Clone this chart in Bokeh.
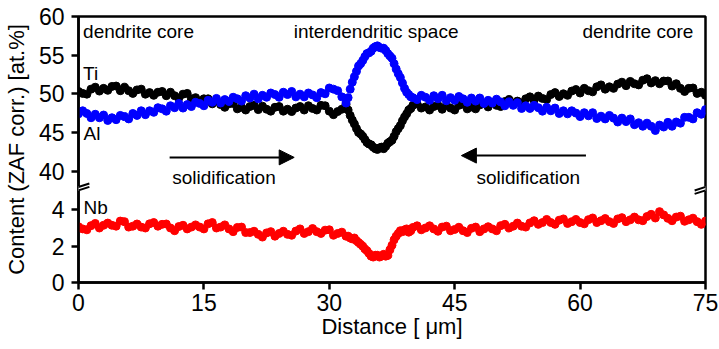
from bokeh.plotting import figure
from bokeh.models import (Range1d, FixedTicker, CustomJSTickFormatter, Label,
                          Arrow, NormalHead)
from bokeh.embed import file_html
from bokeh.resources import INLINE

# ---------------- data ----------------
distance = [
    0.0, 0.5, 1.0, 1.5, 2.0, 2.5, 3.0, 3.5, 4.0, 4.5, 5.0, 5.5, 6.0, 6.5, 7.0, 7.5, 8.0, 8.5, 9.0, 9.5,
    10.0, 10.5, 11.0, 11.5, 12.0, 12.5, 13.0, 13.5, 14.0, 14.5, 15.0, 15.5, 16.0, 16.5, 17.0, 17.5, 18.0, 18.5, 19.0, 19.5,
    20.0, 20.5, 21.0, 21.5, 22.0, 22.5, 23.0, 23.5, 24.0, 24.5, 25.0, 25.5, 26.0, 26.5, 27.0, 27.5, 28.0, 28.5, 29.0, 29.5,
    30.0, 30.5, 31.0, 31.5, 32.0, 32.25, 32.5, 32.75, 33.0, 33.25, 33.5, 33.75, 34.0, 34.25, 34.5, 34.75, 35.0, 35.25,
    35.5, 35.75, 36.0, 36.25, 36.5, 36.75, 37.0, 37.25, 37.5, 37.75, 38.0, 38.25, 38.5, 38.75, 39.0, 39.25, 39.5, 39.75,
    40.0, 40.5, 41.0, 41.5, 42.0, 42.5, 43.0, 43.5, 44.0, 44.5, 45.0, 45.5, 46.0, 46.5, 47.0, 47.5, 48.0, 48.5, 49.0, 49.5,
    50.0, 50.5, 51.0, 51.5, 52.0, 52.5, 53.0, 53.5, 54.0, 54.5, 55.0, 55.5, 56.0, 56.5, 57.0, 57.5, 58.0, 58.5, 59.0, 59.5,
    60.0, 60.5, 61.0, 61.5, 62.0, 62.5, 63.0, 63.5, 64.0, 64.5, 65.0, 65.5, 66.0, 66.5, 67.0, 67.5, 68.0, 68.5, 69.0, 69.5,
    70.0, 70.5, 71.0, 71.5, 72.0, 72.5, 73.0, 73.5, 74.0, 74.5, 75.0,
]

ti = [
    50.3, 50.05, 49.95, 50.6, 50.85, 50.35, 50.7, 50.45, 50.95, 51.0, 50.4, 50.85, 50.4, 50.05, 50.5, 50.6, 49.95, 50.15, 49.8, 50.2,
    50.3, 49.75, 50.2, 49.75, 49.45, 49.95, 50.05, 49.35, 49.5, 49.05, 49.35, 49.35, 48.7, 49.1, 48.6, 48.25, 48.7, 48.75, 48.05, 48.25,
    47.9, 48.35, 48.5, 47.95, 48.4, 48.0, 47.75, 48.25, 48.35, 47.75, 48.0, 47.7, 48.15, 48.35, 47.9, 48.45, 48.1, 47.9, 48.5, 48.45,
    47.75, 47.3, 47.7, 48.0, 48.6, 47.9, 47.2, 46.6, 46.1, 45.5, 45.0, 44.8, 44.5, 44.1, 43.7, 43.5, 43.4, 43.1,
    42.9, 42.8, 43.0, 43.1, 42.9, 43.2, 43.6, 43.8, 44.0, 44.5, 45.1, 45.5, 45.9, 46.5, 47.0, 47.4, 47.9, 48.1,
    48.5, 48.7, 48.15, 48.3, 47.9, 48.35, 48.5, 48.0, 48.5, 48.15, 47.9, 48.5, 48.65, 48.05, 48.3, 48.05, 48.55, 48.75, 48.3, 48.85,
    48.5, 48.35, 49.0, 49.25, 48.75, 49.05, 48.8, 49.35, 49.6, 49.15, 49.7, 49.4, 49.25, 49.9, 50.15, 49.65, 50.0, 49.8, 50.35, 50.55,
    50.1, 50.7, 50.4, 50.25, 50.9, 51.15, 50.6, 50.9, 50.7, 51.25, 51.5, 51.05, 51.6, 51.3, 51.15, 51.75, 51.95, 51.4, 51.7, 51.3,
    51.65, 51.65, 51.0, 51.3, 50.7, 50.3, 50.7, 50.75, 50.05, 50.2, 49.8,
]

al = [
    47.4, 47.8, 47.45, 46.9, 47.35, 46.9, 47.25, 46.55, 46.9, 46.65, 47.2, 47.05, 46.75, 47.45, 47.2, 47.8, 47.3, 47.8, 47.6, 48.2,
    48.05, 47.75, 48.45, 48.2, 48.75, 48.15, 48.6, 48.35, 48.9, 48.75, 48.45, 49.15, 48.9, 49.4, 48.8, 49.25, 49.0, 49.55, 49.35, 49.05,
    49.75, 49.45, 49.95, 49.35, 49.8, 49.55, 50.1, 49.9, 49.55, 50.2, 49.9, 50.3, 49.6, 49.95, 49.6, 50.1, 49.85, 49.5, 50.15, 50.0,
    50.75, 50.6, 50.4, 49.6, 48.8, 49.5, 50.6, 51.5, 52.2, 52.9, 53.6, 53.9, 54.3, 54.8, 55.2, 55.3, 55.5, 55.9,
    56.1, 56.2, 56.0, 55.9, 55.9, 55.6, 55.2, 54.9, 54.6, 53.9, 53.2, 52.6, 52.1, 51.4, 50.7, 50.2, 49.9, 49.6,
    49.5, 49.25, 49.8, 49.55, 49.15, 49.75, 49.35, 49.8, 49.1, 49.5, 49.15, 49.65, 49.35, 48.9, 49.45, 49.05, 49.45, 48.75, 49.15, 48.8,
    49.3, 48.95, 48.45, 48.95, 48.5, 48.85, 48.1, 48.45, 48.1, 48.5, 48.2, 47.75, 48.25, 47.8, 48.15, 47.45, 47.8, 47.4, 47.8, 47.5,
    47.05, 47.55, 47.15, 47.55, 46.8, 47.1, 46.75, 47.2, 46.85, 46.35, 46.85, 46.4, 46.75, 46.0, 46.25, 45.8, 46.2, 45.8, 45.25, 45.95,
    45.7, 46.3, 45.8, 46.35, 46.2, 46.95, 46.95, 46.75, 47.55, 47.35, 47.95,
]

nb = [
    3.07, 2.95, 2.9, 3.13, 3.25, 3.0, 3.15, 3.27, 3.15, 3.1, 3.38, 3.35, 3.05, 3.1, 3.22, 3.05, 3.0, 3.23, 3.3, 3.1,
    3.2, 3.22, 3.0, 2.85, 3.08, 3.15, 2.95, 3.05, 3.17, 3.05, 2.95, 3.23, 3.3, 3.0, 3.05, 3.17, 2.95, 2.8, 3.03, 3.05,
    2.75, 2.75, 2.82, 2.65, 2.5, 2.73, 2.8, 2.55, 2.7, 2.82, 2.65, 2.6, 2.83, 2.95, 2.7, 2.8, 2.97, 2.8, 2.7, 2.88,
    2.9, 2.6, 2.7, 2.77, 2.55, 2.55, 2.45, 2.4, 2.45, 2.3, 2.2, 2.1, 2.0, 1.85, 1.75, 1.6, 1.45, 1.4,
    1.5, 1.5, 1.4, 1.45, 1.55, 1.45, 1.5, 1.8, 2.05, 2.35, 2.55, 2.7, 2.85, 2.8, 2.9, 2.95, 2.77, 2.85,
    3.03, 3.12, 2.9, 3.0, 3.12, 2.95, 2.82, 3.05, 3.1, 2.85, 2.92, 3.04, 2.85, 2.75, 2.98, 3.05, 2.8, 2.95, 3.07, 2.95,
    2.85, 3.13, 3.2, 3.0, 3.1, 3.27, 3.1, 3.05, 3.28, 3.4, 3.2, 3.3, 3.47, 3.3, 3.2, 3.43, 3.5, 3.25, 3.35, 3.47,
    3.3, 3.23, 3.46, 3.55, 3.3, 3.4, 3.52, 3.35, 3.25, 3.5, 3.57, 3.35, 3.45, 3.6, 3.45, 3.4, 3.63, 3.75, 3.55, 3.9,
    3.72, 3.53, 3.4, 3.6, 3.65, 3.37, 3.45, 3.54, 3.35, 3.2, 3.38,
]

x_ticks = [0, 15, 30, 45, 60, 75]
top_ticks = [40, 45, 50, 55, 60]      # Ti / Al segment
nb_ticks = [0, 2, 4]                  # Nb segment

# ---------------- axis geometry (broken y axis) ----------------
TOP_LO, TOP_HI = 25.58, 60.0      # upper segment's range over the whole frame
NB_LO, NB_HI = 0.0, 14.64         # lower segment's range over the whole frame
K = (TOP_HI - TOP_LO) / (NB_HI - NB_LO)
BREAK_Y = 37.72                   # break height in upper-segment units

FONT = "Liberation Sans"

p = figure(width=719, height=349, output_backend="svg", toolbar_location=None,
           x_range=Range1d(0, 75), y_range=Range1d(TOP_LO, TOP_HI),
           min_border_left=77, min_border_right=14, min_border_top=16,
           min_border_bottom=67)
p.extra_y_ranges = {"nb": Range1d(NB_LO, NB_HI)}
p.grid.visible = False
p.outline_line_color = "black"
p.outline_line_width = 2.5
p.outline_line_alpha = 1.0

# data
p.scatter(distance, ti, size=8, color="#000000", marker="circle")
p.scatter(distance, al, size=8, color="#0000FF", marker="circle")
p.scatter(distance, nb, size=8, color="#FF0000", marker="circle", y_range_name="nb")

# axes
for ax in (p.xaxis[0], p.yaxis[0]):
    ax.axis_line_width = 2.5
    ax.axis_line_color = "black"
    ax.major_tick_line_width = 2.5
    ax.major_tick_line_color = "black"
    ax.major_tick_out = 7
    ax.major_tick_in = 0
    ax.minor_tick_line_color = None
    ax.major_label_text_font = FONT
    ax.major_label_text_font_size = "23px"
    ax.major_label_text_color = "black"
    ax.axis_label_text_font = FONT
    ax.axis_label_text_font_size = "22px"
    ax.axis_label_text_font_style = "normal"
    ax.axis_label_text_color = "black"

p.xaxis.ticker = FixedTicker(ticks=x_ticks, minor_ticks=[])
p.xaxis.axis_label = "Distance [ \u03bcm]"
p.xaxis.major_label_standoff = 4
p.xaxis.axis_label_standoff = 0

nb_pos = [TOP_LO + (t - NB_LO) * K for t in nb_ticks]
p.yaxis.ticker = FixedTicker(ticks=nb_pos + top_ticks, minor_ticks=[])
p.yaxis.formatter = CustomJSTickFormatter(args=dict(lo=TOP_LO, k=K, brk=BREAK_Y), code="""
    const v = tick >= brk ? tick : (tick - lo) / k;
    return Math.round(v).toString();
""")
p.yaxis.axis_label = "Content (ZAF corr.) [at.%]"
p.yaxis.major_label_standoff = 7
p.yaxis.axis_label_standoff = 7

# axis break marks (left and right)
for bx in (0, 75):
    p.add_layout(Arrow(x_start=bx, y_start=BREAK_Y - 0.3, x_end=bx, y_end=BREAK_Y + 0.3,
                       line_color="white", line_width=5, end=None))
    for dy in (-0.22, 0.22):
        p.add_layout(Arrow(x_start=bx - 1.3, y_start=BREAK_Y + dy - 0.45,
                           x_end=bx + 1.3, y_end=BREAK_Y + dy + 0.45,
                           line_color="black", line_width=2, end=None))

# solidification arrows
p.add_layout(Arrow(x_start=10.9, y_start=41.77, x_end=25.8, y_end=41.77,
                   line_color="black", line_width=2,
                   end=NormalHead(size=15, fill_color="black", line_color="black")))
p.add_layout(Arrow(x_start=60.7, y_start=42.0, x_end=45.8, y_end=42.0,
                   line_color="black", line_width=2,
                   end=NormalHead(size=15, fill_color="black", line_color="black")))

def lab(x, y, text, align="left", rng="default"):
    p.add_layout(Label(x=x, y=y, text=text, text_align=align, text_baseline="alphabetic",
                       text_font=FONT, text_font_size="19px", text_color="black",
                       y_range_name=rng))

lab(0.55, 58.0, "dendrite core")
lab(35.6, 58.0, "interdendritic space", align="center")
lab(73.55, 58.0, "dendrite core", align="right")
lab(0.55, 52.6, "Ti")
lab(0.6, 44.85, "Al")
lab(0.6, 4.12, "Nb", rng="nb")
lab(17.4, 39.23, "solidification", align="center")
lab(53.8, 39.23, "solidification", align="center")

open("out.html", "w").write(file_html(p, INLINE))
